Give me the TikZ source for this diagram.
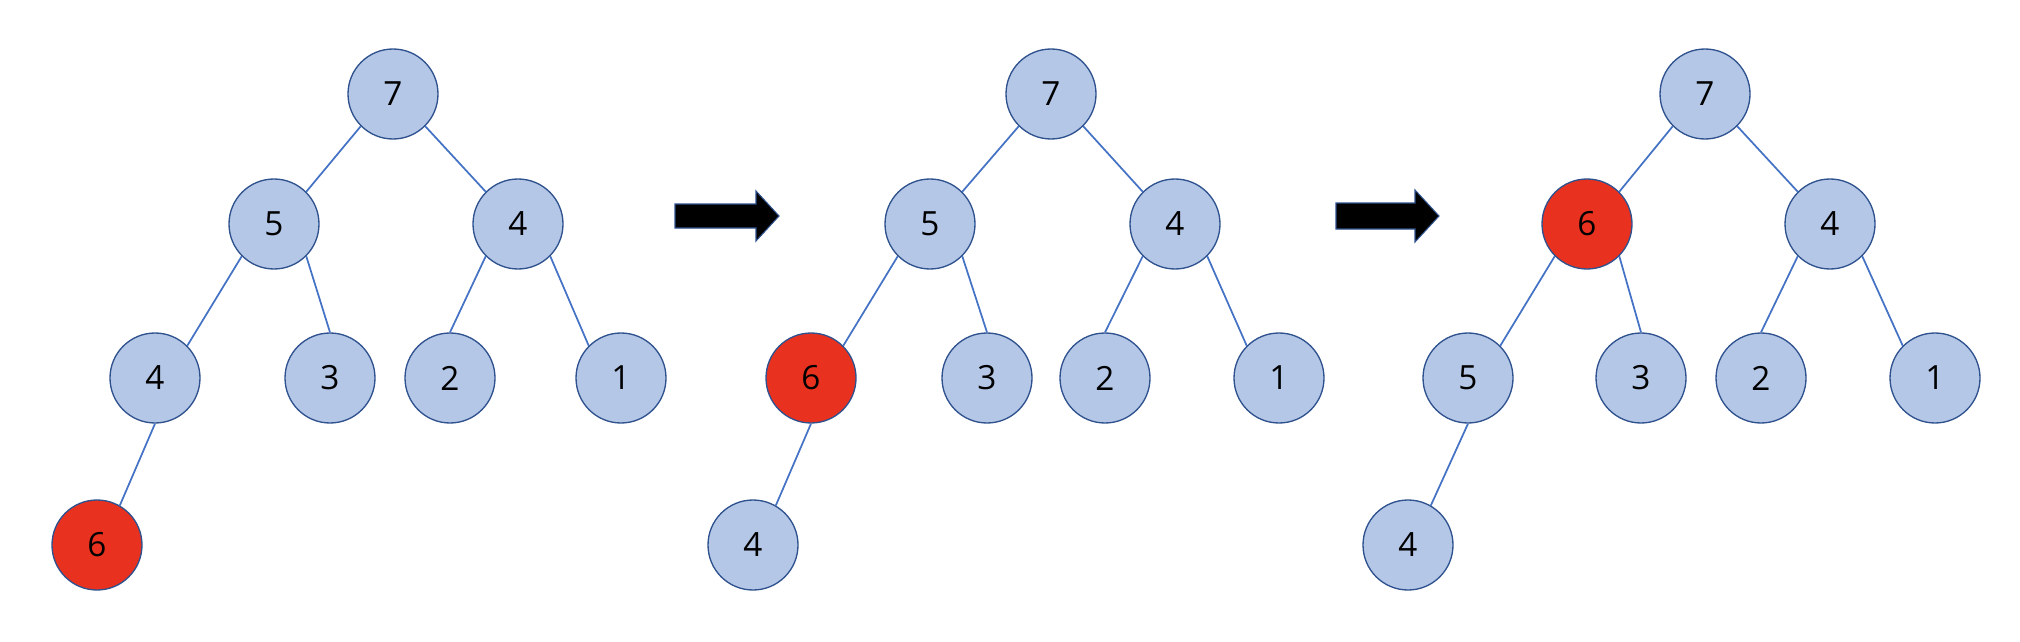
\documentclass[tikz,border=0pt]{standalone}
\usepackage{fontspec}
\setmainfont{Open Sans}
\definecolor{nodefill}{HTML}{B4C7E7}
\definecolor{nodeborder}{HTML}{2F528F}
\definecolor{edgecol}{HTML}{4472C4}
\definecolor{hotred}{HTML}{E9311F}
\begin{document}
\begin{tikzpicture}[x=0.75pt,y=-0.75pt,
  hn/.style={circle,draw=nodeborder,line width=1pt,fill=nodefill,minimum size=67.5pt,inner sep=0pt,font=\fontsize{25}{30}\selectfont},
  hot/.style={hn,fill=hotred},
  edge/.style={draw=edgecol,line width=1.3pt},
  bigarrow/.style={fill=black,draw=nodeborder,line width=0.8pt,line join=miter}]
\useasboundingbox (0,0) rectangle (2020,642);
% Tree 1
\node[hn]  (a7) at (393,94)  {7};
\node[hn]  (a5) at (274,224) {5};
\node[hn]  (a4r) at (518,224) {4};
\node[hn]  (a4l) at (155,378) {4};
\node[hn]  (a3) at (330,378) {3};
\node[hn]  (a2) at (450,378) {2};
\node[hn]  (a1) at (621,378) {1};
\node[hot] (a6) at (97,545) {6};
\draw[edge] (a7.225) -- (a5.45);
\draw[edge] (a7.315) -- (a4r.135);
\draw[edge] (a5.225) -- (a4l.45);
\draw[edge] (a5.315) -- (a3.90);
\draw[edge] (a4r.225) -- (a2.90);
\draw[edge] (a4r.315) -- (a1.135);
\draw[edge] (a4l.270) -- (a6.60);
% Tree 2
\node[hn]  (b7) at (1051,94)  {7};
\node[hn]  (b5) at (930,224) {5};
\node[hn]  (b4r) at (1175,224) {4};
\node[hot] (b6) at (811,378) {6};
\node[hn]  (b3) at (987,378) {3};
\node[hn]  (b2) at (1105,378) {2};
\node[hn]  (b1) at (1279,378) {1};
\node[hn]  (b4) at (753,545) {4};
\draw[edge] (b7.225) -- (b5.45);
\draw[edge] (b7.315) -- (b4r.135);
\draw[edge] (b5.225) -- (b6.45);
\draw[edge] (b5.315) -- (b3.90);
\draw[edge] (b4r.225) -- (b2.90);
\draw[edge] (b4r.315) -- (b1.135);
\draw[edge] (b6.270) -- (b4.60);
% Tree 3
\node[hn]  (c7) at (1705,94)  {7};
\node[hot] (c6) at (1587,224) {6};
\node[hn]  (c4r) at (1830,224) {4};
\node[hn]  (c5) at (1468,378) {5};
\node[hn]  (c3) at (1641,378) {3};
\node[hn]  (c2) at (1761,378) {2};
\node[hn]  (c1) at (1935,378) {1};
\node[hn]  (c4) at (1408,545) {4};
\draw[edge] (c7.225) -- (c6.45);
\draw[edge] (c7.315) -- (c4r.135);
\draw[edge] (c6.225) -- (c5.45);
\draw[edge] (c6.315) -- (c3.90);
\draw[edge] (c4r.225) -- (c2.90);
\draw[edge] (c4r.315) -- (c1.135);
\draw[edge] (c5.270) -- (c4.60);
% Block arrows
\draw[bigarrow] (675,204) -- (756,204) -- (756,191) -- (779,216) -- (756,241) -- (756,228) -- (675,228) -- cycle;
\draw[bigarrow] (1336,203) -- (1415,203) -- (1415,190) -- (1439,216) -- (1415,242) -- (1415,229) -- (1336,229) -- cycle;
\end{tikzpicture}
\end{document}
